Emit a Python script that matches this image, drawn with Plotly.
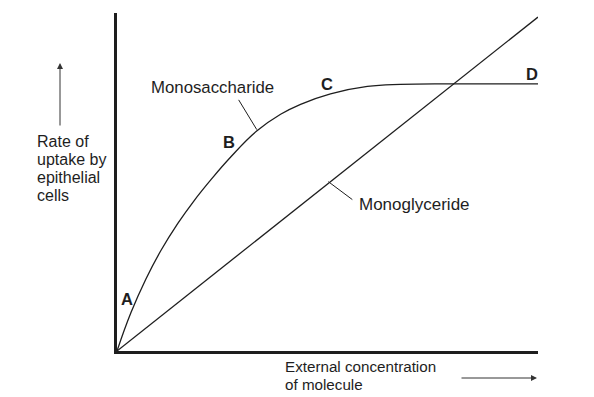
import plotly.graph_objects as go

# External concentration (arbitrary units) and uptake rates
mono_sacc_conc = [0, 3.32, 6.87, 10.43, 14.45, 18.25, 22.27, 27.01, 33.18, 38.86, 43.60, 50.71, 59.48, 67.30, 79.62, 100]
mono_sacc_rate = [0, 11.36, 21.31, 29.72, 37.76, 44.37, 50.62, 57.40, 65.07, 70.03, 72.98, 76.08, 78.26, 78.90, 79.06, 79.06]
mono_gly_conc = [0, 100]
mono_gly_rate = [0, 98.8]

point_labels = ["A", "B", "C", "D"]
point_x = [2.4, 26.5, 49.8, 98.6]
point_y = [15.3, 61.9, 79.1, 82.0]

y_title_lines = ["Rate of", "uptake by", "epithelial", "cells"]
x_title_lines = ["External concentration", "of molecule"]

FONT = "Arial, Liberation Sans, sans-serif"
INK = "#1e1e1e"

fig = go.Figure()
fig.add_trace(go.Scatter(x=mono_sacc_conc, y=mono_sacc_rate, mode="lines",
                         line=dict(color=INK, width=1.3, shape="spline", smoothing=1.2),
                         hoverinfo="skip", showlegend=False))
fig.add_trace(go.Scatter(x=mono_gly_conc, y=mono_gly_rate, mode="lines",
                         line=dict(color=INK, width=1.3),
                         hoverinfo="skip", showlegend=False))

OFF = 8  # page body margin
W, H = 594 - OFF, 397 - OFF
L, R, T, B = 109, 56, 5, 46
pw, ph = W - L - R, H - T - B

def px_to_paper(px, py):
    # px, py in reference-image pixels
    return (px - OFF - L) / pw, (H - B - (py - OFF)) / ph

ann = []
for lab, xx, yy in zip(point_labels, point_x, point_y):
    ann.append(dict(x=xx, y=yy, xref="x", yref="y", text="<b>%s</b>" % lab, showarrow=False,
                    font=dict(family=FONT, size=16.5, color=INK)))

ann.append(dict(x=22.6, y=77.9, xref="x", yref="y", text="Monosaccharide", showarrow=False,
                font=dict(family=FONT, size=16.8, color=INK)))
ann.append(dict(x=57.1, y=43.4, xref="x", yref="y", text="Monoglyceride", showarrow=False,
                xanchor="left", font=dict(family=FONT, size=17, color=INK)))

for i, t in enumerate(y_title_lines):
    xp, yp = px_to_paper(35, 141 + 18.3 * i)
    ann.append(dict(x=xp, y=yp, xref="paper", yref="paper", text=t, showarrow=False,
                    xanchor="left", yanchor="middle", font=dict(family=FONT, size=16, color=INK)))
for i, t in enumerate(x_title_lines):
    xp, yp = px_to_paper(283, 366.5 + 18 * i)
    ann.append(dict(x=xp, y=yp, xref="paper", yref="paper", text=t, showarrow=False,
                    xanchor="left", yanchor="middle", font=dict(family=FONT, size=15.2, color=INK)))

# arrows
xp, yp = px_to_paper(60, 63)
ann.append(dict(x=xp, y=yp, xref="paper", yref="paper", text="", showarrow=True,
                ax=0, ay=64, arrowhead=2, arrowsize=1.2, arrowwidth=1, arrowcolor="#333"))
xp, yp = px_to_paper(537, 378)
ann.append(dict(x=xp, y=yp, xref="paper", yref="paper", text="", showarrow=True,
                ax=-77, ay=0, arrowhead=2, arrowsize=1.2, arrowwidth=1, arrowcolor="#333"))

shapes = [
    dict(type="line", xref="x", yref="y", x0=28.9, y0=74.3, x1=33.2, y1=65.5,
         line=dict(color=INK, width=1)),
    dict(type="line", xref="x", yref="y", x0=50.2, y0=50.1, x1=55.9, y1=44.8,
         line=dict(color=INK, width=1)),
]

fig.update_layout(
    width=W, height=H, margin=dict(l=L, r=R, t=T, b=B),
    paper_bgcolor="white", plot_bgcolor="white",
    xaxis=dict(range=[0, 100], showline=True, linecolor=INK, linewidth=2.5, showgrid=False,
               zeroline=False, showticklabels=False, ticks=""),
    yaxis=dict(range=[0, 100], showline=True, linecolor=INK, linewidth=2.5, showgrid=False,
               zeroline=False, showticklabels=False, ticks=""),
    annotations=ann, shapes=shapes,
)

fig.write_html("out.html")
